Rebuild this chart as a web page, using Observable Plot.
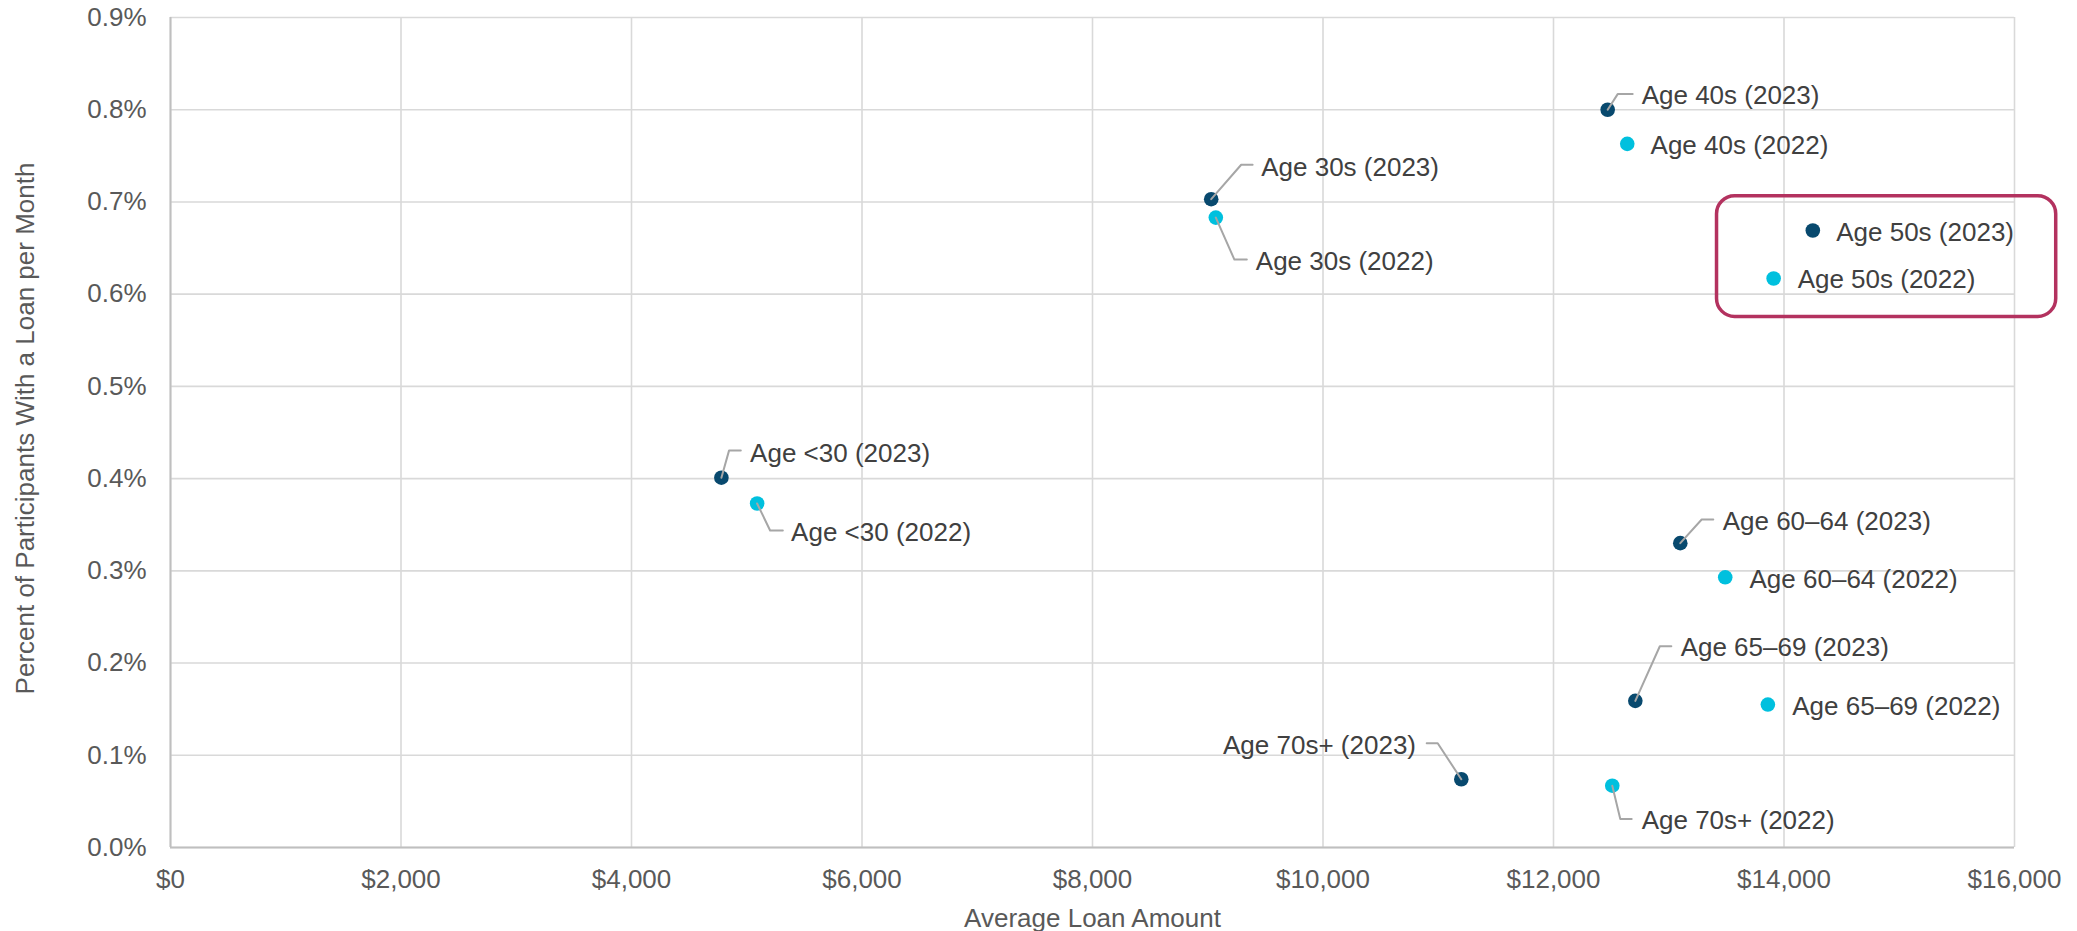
<!DOCTYPE html>
<html>
<head>
<meta charset="utf-8">
<script src="https://cdn.jsdelivr.net/npm/d3@7"></script>
<script src="https://cdn.jsdelivr.net/npm/@observablehq/plot@0.6"></script>
<style>
  html, body { margin: 0; padding: 0; background: #ffffff; }
  #chart { width: 2077px; height: 931px; }
</style>
</head>
<body>
<div id="chart"></div>
<script>
// Age groups and the two survey years
const ageGroups = ["<30", "30s", "40s", "50s", "60–64", "65–69", "70s+"];
const years = ["2023", "2022"];

// Average loan amount ($) per age group
const loan2023 = [4780, 9030, 12470, 14250, 13100, 12710, 11200];
const loan2022 = [5090, 9070, 12640, 13910, 13490, 13860, 12510];

// Percent of participants taking a loan per month (%)
const rate2023 = [0.401, 0.703, 0.800, 0.669, 0.330, 0.159, 0.074];
const rate2022 = [0.373, 0.683, 0.763, 0.617, 0.293, 0.155, 0.067];

// Axis ticks
const xTicks = [0, 2000, 4000, 6000, 8000, 10000, 12000, 14000, 16000];
const yTicks = [0, 0.1, 0.2, 0.3, 0.4, 0.5, 0.6, 0.7, 0.8, 0.9];

// Age group highlighted with a callout box
const highlightGroup = "50s";

// Label placement, in pixels relative to each dot (same order as ageGroups).
// leader: elbow and end points of the connector line, or null for none.
const layout2023 = [
  { dx: 28.7, dy: -24.3, anchor: "start", leader: [[7.7, -27.3], [19.4, -27.3]] },
  { dx: 50.0, dy: -31.5, anchor: "start", leader: [[30.0, -34.4], [41.4, -34.4]] },
  { dx: 34.0, dy: -13.8, anchor: "start", leader: [[10.0, -15.6], [25.0, -15.6]] },
  { dx: 23.4, dy: 1.8,   anchor: "start", leader: null },
  { dx: 42.4, dy: -21.7, anchor: "start", leader: [[21.4, -23.7], [33.0, -23.7]] },
  { dx: 45.3, dy: -52.8, anchor: "start", leader: [[24.5, -54.6], [36.0, -54.6]] },
  { dx: -45.3, dy: -33.1, anchor: "end", leader: [[-23.6, -36.0], [-34.6, -36.0]] }
];
const layout2022 = [
  { dx: 34.0, dy: 28.8, anchor: "start", leader: [[13.0, 27.0], [25.7, 27.0]] },
  { dx: 40.0, dy: 44.0, anchor: "start", leader: [[18.6, 42.0], [31.0, 42.0]] },
  { dx: 23.3, dy: 2.2,  anchor: "start", leader: null },
  { dx: 24.0, dy: 1.2,  anchor: "start", leader: null },
  { dx: 24.3, dy: 2.5,  anchor: "start", leader: null },
  { dx: 24.4, dy: 2.5,  anchor: "start", leader: null },
  { dx: 29.4, dy: 34.8, anchor: "start", leader: [[8.0, 33.3], [19.4, 33.3]] }
];

// Callout box padding (pixels) around the highlighted pair of dots
const boxPad = { left: 56.6, right: 243.4, top: 34.3, bottom: 38.4 };

const colors = { "2023": "#08496e", "2022": "#00c0de" };
const W = 2077, H = 931;
const frame = {
  width: W, height: H,
  marginLeft: 170, marginRight: 63, marginTop: 17, marginBottom: 84,
  x: { domain: [0, 16000] },
  y: { domain: [0, 0.9] }
};

// Tidy table of all points
const points = [];
ageGroups.forEach((g, i) => {
  points.push({ group: g, year: "2023", loan: loan2023[i], rate: rate2023[i], layout: layout2023[i] });
  points.push({ group: g, year: "2022", loan: loan2022[i], rate: rate2022[i], layout: layout2022[i] });
});
points.forEach(p => { p.label = `Age ${p.group} (${p.year})`; });

// Build the scales once so that pixel offsets can be turned into data positions
const probe = Plot.plot({ ...frame, marks: [Plot.dot(points, { x: "loan", y: "rate" })] });
const sx = probe.scale("x"), sy = probe.scale("y");
const shift = (p, ox, oy) => ({
  x: sx.invert(sx.apply(p.loan) + ox),
  y: sy.invert(sy.apply(p.rate) + oy)
});

// Label anchors
const labels = points.map(p => {
  const pos = shift(p, p.layout.dx, p.layout.dy);
  return { ...pos, text: p.label, anchor: p.layout.anchor };
});

// Leader lines: dot -> elbow -> end
const leaders = [];
points.forEach(p => {
  if (!p.layout.leader) return;
  const [e, t] = p.layout.leader;
  leaders.push({ id: p.label, x: p.loan, y: p.rate });
  leaders.push({ id: p.label, ...shift(p, e[0], e[1]) });
  leaders.push({ id: p.label, ...shift(p, t[0], t[1]) });
});

// Callout box around the highlighted group
const hl = points.filter(p => p.group === highlightGroup);
const hlLeft = hl.reduce((a, b) => (a.loan < b.loan ? a : b));
const hlRight = hl.reduce((a, b) => (a.loan > b.loan ? a : b));
const hlTop = hl.reduce((a, b) => (a.rate > b.rate ? a : b));
const hlBottom = hl.reduce((a, b) => (a.rate < b.rate ? a : b));
const box = [{
  x1: shift(hlLeft, -boxPad.left, 0).x,
  x2: shift(hlRight, boxPad.right, 0).x,
  y1: shift(hlTop, 0, -boxPad.top).y,
  y2: shift(hlBottom, 0, boxPad.bottom).y
}];

const chart = Plot.plot({
  ...frame,
  style: {
    fontFamily: "'Liberation Sans', Arial, Helvetica, sans-serif",
    fontSize: "26px",
    background: "#ffffff",
    overflow: "visible"
  },
  marks: [
    Plot.gridX(xTicks, { stroke: "#d9d9d9", strokeOpacity: 1, strokeWidth: 1.6 }),
    Plot.gridY(yTicks, { stroke: "#d9d9d9", strokeOpacity: 1, strokeWidth: 1.6 }),
    Plot.ruleX([0], { stroke: "#bfbfbf", strokeWidth: 2 }),
    Plot.ruleY([0], { stroke: "#bfbfbf", strokeWidth: 2 }),
    Plot.axisX(xTicks, {
      tickSize: 0, tickPadding: 22, fill: "#595959", fontSize: 26,
      tickFormat: d => "$" + d3.format(",")(d), label: null
    }),
    Plot.axisY(yTicks, {
      tickSize: 0, tickPadding: 24, fill: "#595959", fontSize: 26,
      tickFormat: d => d.toFixed(1) + "%", label: null
    }),
    Plot.text(["Average Loan Amount"], {
      frameAnchor: "bottom", dy: 79, lineAnchor: "bottom", textAnchor: "middle",
      fill: "#595959", fontSize: 26
    }),
    Plot.text(["Percent of Participants With a Loan per Month"], {
      frameAnchor: "left", dx: -145, dy: -4, rotate: -90,
      textAnchor: "middle", lineAnchor: "middle",
      fill: "#595959", fontSize: 26
    }),
    Plot.rect(box, {
      x1: "x1", x2: "x2", y1: "y1", y2: "y2",
      fill: "none", stroke: "#b3325f", strokeWidth: 3.5, rx: 18
    }),
    Plot.dot(points, {
      x: "loan", y: "rate", r: 7.3,
      fill: d => colors[d.year], stroke: "none"
    }),
    Plot.line(leaders, {
      x: "x", y: "y", z: "id",
      stroke: "#a6a6a6", strokeWidth: 2, curve: "linear"
    }),
    Plot.text(labels.filter(d => d.anchor === "start"), {
      x: "x", y: "y", text: "text", textAnchor: "start", lineAnchor: "middle",
      fill: "#404040", fontSize: 26
    }),
    Plot.text(labels.filter(d => d.anchor === "end"), {
      x: "x", y: "y", text: "text", textAnchor: "end", lineAnchor: "middle",
      fill: "#404040", fontSize: 26
    })
  ]
});

document.getElementById("chart").appendChild(chart);
</script>
</body>
</html>
